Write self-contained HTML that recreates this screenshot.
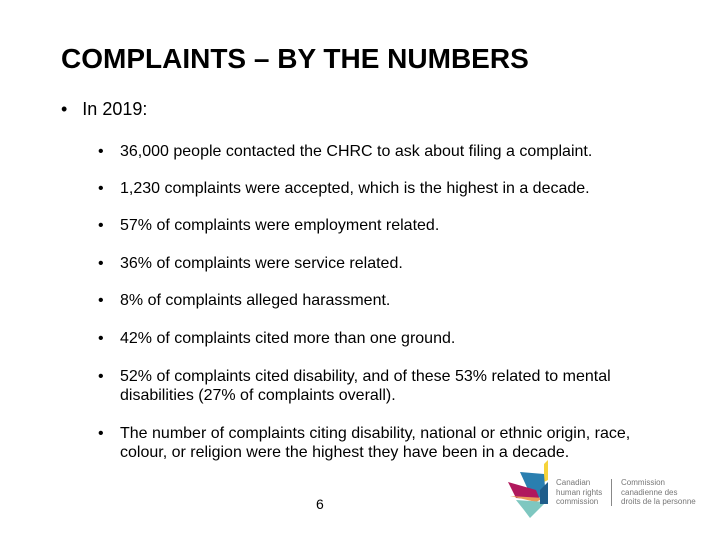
<!DOCTYPE html>
<html><head><meta charset="utf-8"><style>
body{margin:0;width:720px;height:540px;background:#fff;position:relative;overflow:hidden;font-family:"Liberation Sans",Arial,sans-serif;color:#000}
.a{position:absolute;white-space:nowrap}
.t{left:61px;top:43px;font-size:28px;font-weight:bold}
.l1{left:61px;top:99px;font-size:18px}
.b{font-size:16px;left:98px}
.b span{position:absolute;left:22px}
.lg{font-size:8px;color:#777;line-height:9.5px}
</style></head><body>
<div class="a t">COMPLAINTS – BY THE NUMBERS</div>
<div class="a l1">•&nbsp;&nbsp;&nbsp;In 2019:</div>
<div class="a b" style="top:143px">•<span>36,000 people contacted the CHRC to ask about filing a complaint.</span></div>
<div class="a b" style="top:180px">•<span>1,230 complaints were accepted, which is the highest in a decade.</span></div>
<div class="a b" style="top:217px">•<span>57% of complaints were employment related.</span></div>
<div class="a b" style="top:255px">•<span>36% of complaints were service related.</span></div>
<div class="a b" style="top:292px">•<span>8% of complaints alleged harassment.</span></div>
<div class="a b" style="top:330px">•<span>42% of complaints cited more than one ground.</span></div>
<div class="a b" style="top:367px;line-height:19px">•<span>52% of complaints cited disability, and of these 53% related to mental<br>disabilities (27% of complaints overall).</span></div>
<div class="a b" style="top:424px;line-height:19px">•<span>The number of complaints citing disability, national or ethnic origin, race,<br>colour, or religion were the highest they have been in a decade.</span></div>
<div class="a" style="left:316px;top:496px;font-size:14px">6</div>
<svg class="a" style="left:506px;top:460px" width="42" height="60">
<polygon points="38,4 42,0 42,20 38,22" fill="#f5d33a"/>
<polygon points="14,12 38,14 40,40 24,34" fill="#2a7fb0"/>
<polygon points="2,22 30,30 34,40 10,38" fill="#b0185d"/>
<polygon points="4,36 38,38 30,42" fill="#e89a5a"/>
<polygon points="10,40 40,42 24,58 18,50" fill="#7ec7c0"/>
<polygon points="34,30 42,22 42,44 34,44" fill="#1f5d8a"/>
</svg>
<div class="a lg" style="left:556px;top:478px">Canadian<br>human rights<br>commission</div>
<div class="a" style="left:611px;top:479px;width:1px;height:27px;background:#888"></div>
<div class="a lg" style="left:621px;top:478px">Commission<br>canadienne des<br>droits de la personne</div>
</body></html>
